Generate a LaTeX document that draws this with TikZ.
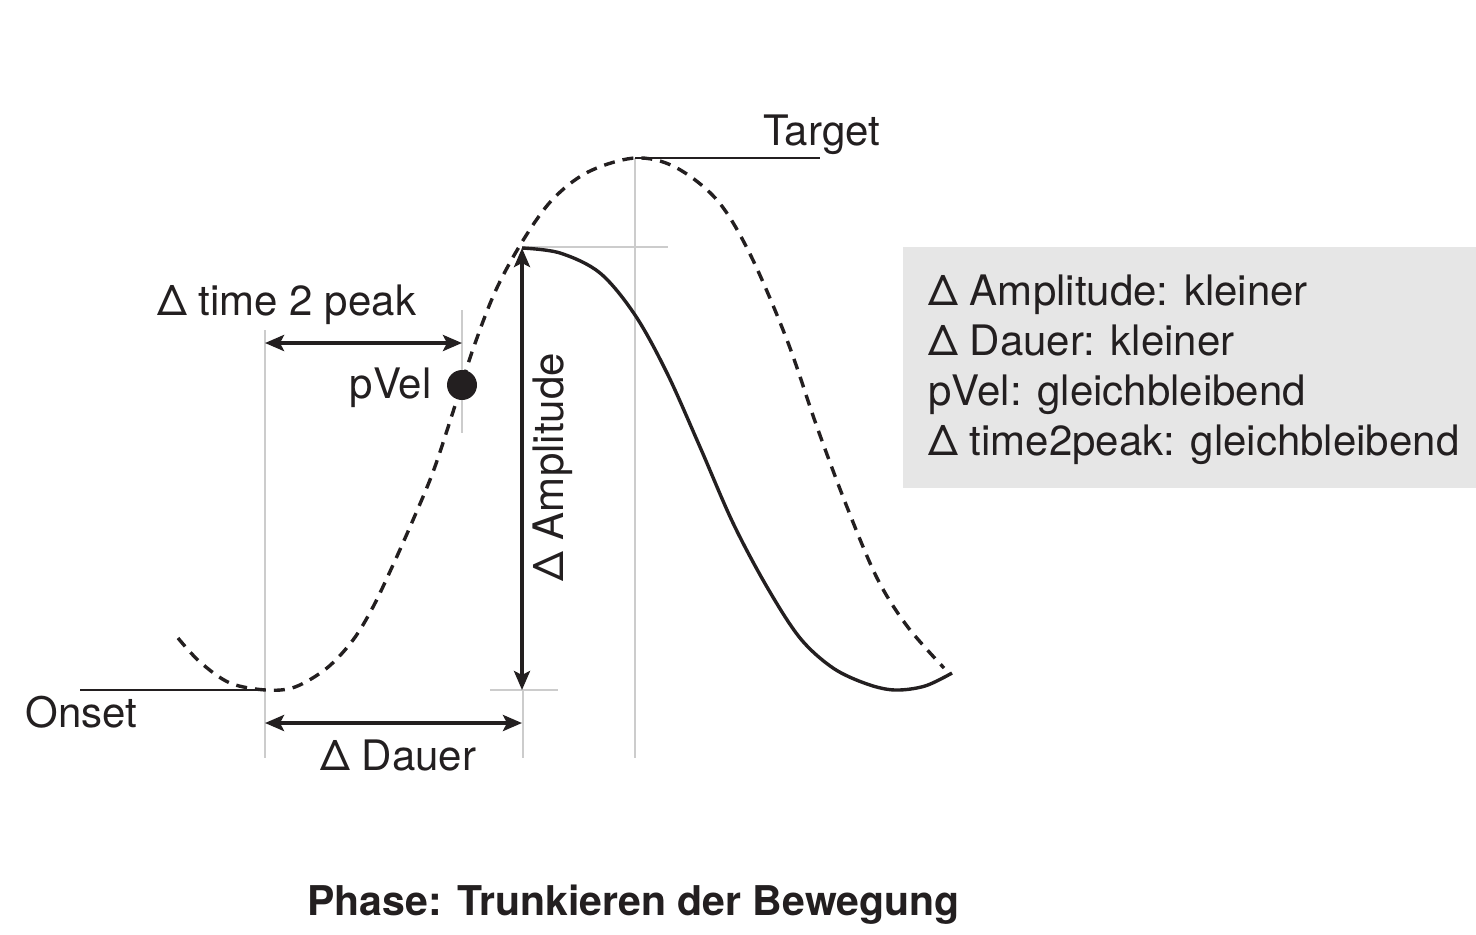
\documentclass[tikz,border=0pt]{standalone}
\usepackage{fontspec}
\setmainfont{TeX Gyre Heros}
\usetikzlibrary{arrows.meta}
\definecolor{ink}{HTML}{231F20}
\definecolor{guide}{HTML}{CCCCCC}
\definecolor{boxgray}{HTML}{E6E6E6}
\begin{document}
\begin{tikzpicture}[x=0.5pt,y=-0.5pt,
  lbl/.style={font=\fontsize{21pt}{25pt}\selectfont, text=ink, inner sep=0pt},
  guideline/.style={draw=guide, line width=0.75pt},
  thinline/.style={draw=ink, line width=0.8pt},
  dimarrow/.style={draw=ink, line width=1.9pt, {Stealth[length=9.5pt,width=8pt,inset=2pt]}-{Stealth[length=9.5pt,width=8pt,inset=2pt]}},
  curve/.style={draw=ink, line width=1.7pt, line cap=butt},
  dashcurve/.style={curve, dash pattern=on 5.5pt off 4pt}
]
\useasboundingbox (0,0) rectangle (1476,934);

% key coordinates
\coordinate (onsetL) at (80,690);
\coordinate (onset) at (265,690);
\coordinate (peakT) at (635,158);
\coordinate (targetR) at (820,158);
\coordinate (pv) at (462,385);
\coordinate (trunc) at (522,248);
\coordinate (ampBot) at (522,690);
\coordinate (durL) at (265,723);
\coordinate (durR) at (522,723);
\coordinate (t2pL) at (265,343);
\coordinate (t2pR) at (462,343);

% grey guide lines
\draw[guideline] (265,330) -- (265,758);
\draw[guideline] (462,310) -- (462,433);
\draw[guideline] (523,690) -- (523,758);
\draw[guideline] (490,690) -- (558,690);
\draw[guideline] (522,247) -- (668,247);
\draw[guideline] (635,158) -- (635,758);

% info box
\node[fill=boxgray, minimum width=286.5pt, minimum height=120.5pt, inner sep=0pt, anchor=north west] (box) at (903,247) {};
\node[lbl, anchor=base west] (l1) at (928,305) {Δ Amplitude: kleiner};
\node[lbl, anchor=base west] (l2) at (928,355) {Δ Dauer: kleiner};
\node[lbl, anchor=base west] (l3) at (928,405) {pVel: gleichbleibend};
\node[lbl, anchor=base west] (l4) at (928,455) {Δ time2peak: gleichbleibend};

% reference lines
\draw[thinline] (onsetL) -- (onset);
\draw[thinline] (peakT) -- (targetR);

% dashed target curve
\draw[dashcurve] plot[smooth, tension=0.55] coordinates {
 (178,638) (200,662) (230,683) (266,690) (295,687) (327,668) (353,640)
 (373,607) (393,565) (413,520) (433,472) (452,415) (472,352) (495,292)
 (522,242) (552,200) (588,172) (635,158) (675,167) (717,200) (750,254)
 (787,340) (817,427) (847,507) (877,578) (907,626) (944,668)};

% solid truncated curve
\draw[curve] plot[smooth, tension=0.55] coordinates {
 (522,248) (560,253) (600,273) (635,315) (667,373) (700,447) (733,523)
 (767,587) (800,638) (833,668) (867,684) (895,690) (925,686) (952,673)};

% dimension arrows
\draw[dimarrow] (t2pL) -- (t2pR);
\draw[dimarrow] (durL) -- (durR);
\draw[dimarrow] (ampBot) -- (trunc);

% pVel dot
\node[circle, fill=ink, minimum size=15pt, inner sep=0pt] (dot) at (pv) {};

% labels
\node[lbl, anchor=base west] (tlab) at (763,145) {Target};
\node[lbl, anchor=base west] (olab) at (25,727) {Onset};
\node[lbl, anchor=base west] (t2plab) at (157,315) {Δ time 2 peak};
\node[lbl, anchor=base east] (pvlab) at (432,398) {pVel};
\node[lbl, anchor=base west] (dlab) at (320,770) {Δ Dauer};
\node[lbl, anchor=base west, rotate=90] (alab) at (563,582) {Δ Amplitude};
\node[lbl, anchor=base west, font=\fontsize{20.5pt}{25pt}\selectfont\bfseries] (title) at (307,915) {Phase: Trunkieren der Bewegung};
\end{tikzpicture}
\end{document}
